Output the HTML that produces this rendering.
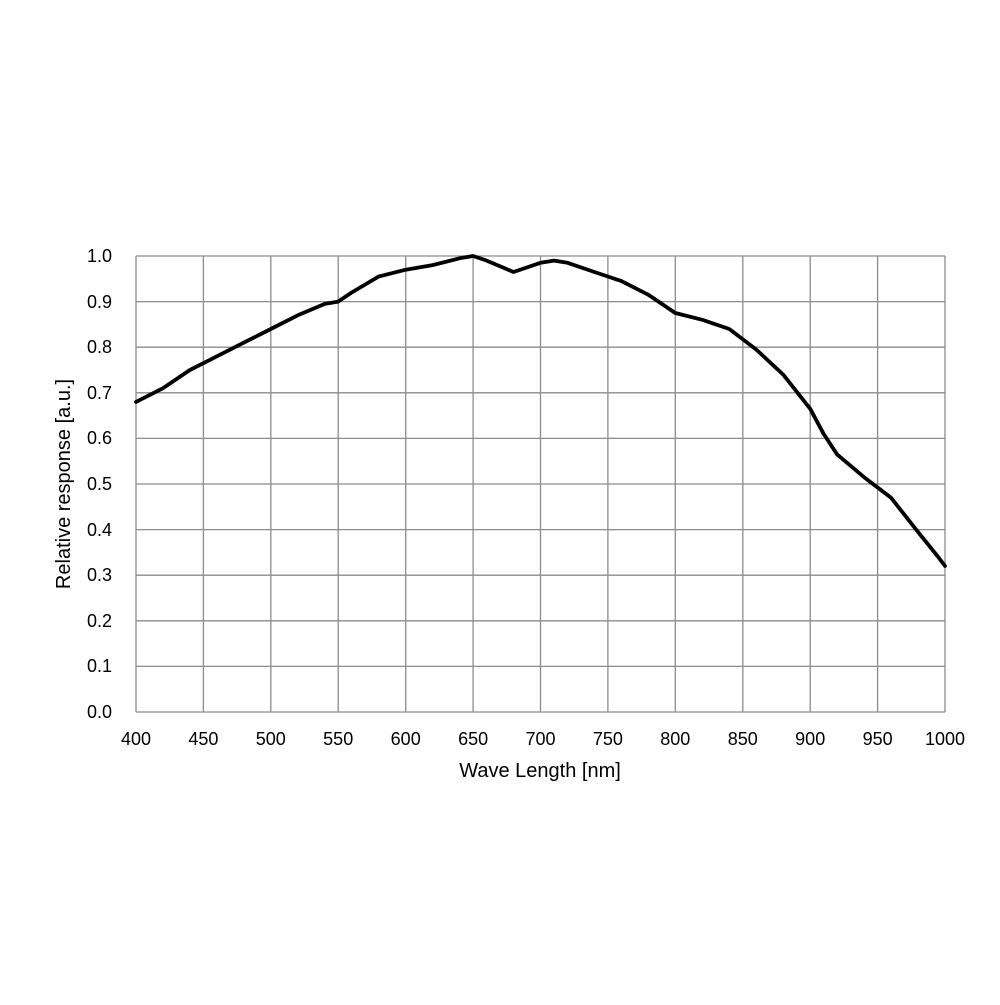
<!DOCTYPE html>
<html><head><meta charset="utf-8"><style>body{margin:0;background:#fff}</style></head><body>
<svg width="1000" height="1000" xmlns="http://www.w3.org/2000/svg" font-family="Liberation Sans, sans-serif" font-size="18" fill="#000">
<rect width="1000" height="1000" fill="#fff"/>
<g stroke="#8c8c8c" stroke-width="1.3" fill="none">
<line x1="136" y1="256" x2="945" y2="256"/><line x1="136" y1="301.6" x2="945" y2="301.6"/><line x1="136" y1="347.2" x2="945" y2="347.2"/><line x1="136" y1="392.8" x2="945" y2="392.8"/><line x1="136" y1="438.4" x2="945" y2="438.4"/><line x1="136" y1="484" x2="945" y2="484"/><line x1="136" y1="529.6" x2="945" y2="529.6"/><line x1="136" y1="575.2" x2="945" y2="575.2"/><line x1="136" y1="620.8" x2="945" y2="620.8"/><line x1="136" y1="666.4" x2="945" y2="666.4"/><line x1="136" y1="712" x2="945" y2="712"/>
<line x1="136" y1="256" x2="136" y2="712"/><line x1="203.4" y1="256" x2="203.4" y2="712"/><line x1="270.8" y1="256" x2="270.8" y2="712"/><line x1="338.2" y1="256" x2="338.2" y2="712"/><line x1="405.7" y1="256" x2="405.7" y2="712"/><line x1="473.1" y1="256" x2="473.1" y2="712"/><line x1="540.5" y1="256" x2="540.5" y2="712"/><line x1="607.9" y1="256" x2="607.9" y2="712"/><line x1="675.3" y1="256" x2="675.3" y2="712"/><line x1="742.8" y1="256" x2="742.8" y2="712"/><line x1="810.2" y1="256" x2="810.2" y2="712"/><line x1="877.6" y1="256" x2="877.6" y2="712"/><line x1="945" y1="256" x2="945" y2="712"/>
</g>
<path fill="none" stroke="#000" stroke-width="3.8" stroke-linejoin="round" stroke-linecap="round" d="M136,401.9 L163,388.2 L189.9,370 L216.9,356.3 L243.9,342.6 L270.8,329 L297.8,315.3 L324.8,303.9 L338.2,301.6 L351.7,292.5 L378.7,276.5 L405.7,269.7 L432.6,265.1 L459.6,258.3 L473.1,256 L486.6,260.6 L513.5,272 L540.5,262.8 L554,260.6 L567.5,262.8 L594.4,272 L621.4,281.1 L648.4,294.8 L675.3,313 L702.3,319.8 L729.3,329 L756.2,349.5 L783.2,374.6 L810.2,408.8 L823.6,433.8 L837.1,454.4 L864.1,477.2 L891,497.7 L918,531.9 L938.2,557 L945,566"/>
<g text-anchor="end">
<text x="112" y="262">1.0</text><text x="112" y="308">0.9</text><text x="112" y="353">0.8</text><text x="112" y="399">0.7</text><text x="112" y="444">0.6</text><text x="112" y="490">0.5</text><text x="112" y="536">0.4</text><text x="112" y="581">0.3</text><text x="112" y="627">0.2</text><text x="112" y="672">0.1</text><text x="112" y="718">0.0</text>
</g>
<g text-anchor="middle">
<text x="136" y="745">400</text><text x="203.4" y="745">450</text><text x="270.8" y="745">500</text><text x="338.2" y="745">550</text><text x="405.7" y="745">600</text><text x="473.1" y="745">650</text><text x="540.5" y="745">700</text><text x="607.9" y="745">750</text><text x="675.3" y="745">800</text><text x="742.8" y="745">850</text><text x="810.2" y="745">900</text><text x="877.6" y="745">950</text><text x="945" y="745">1000</text>
<text x="540" y="777" font-size="20">Wave Length [nm]</text>
<text transform="translate(70,484) rotate(-90)" font-size="20">Relative response [a.u.]</text>
</g>
</svg>
</body></html>
